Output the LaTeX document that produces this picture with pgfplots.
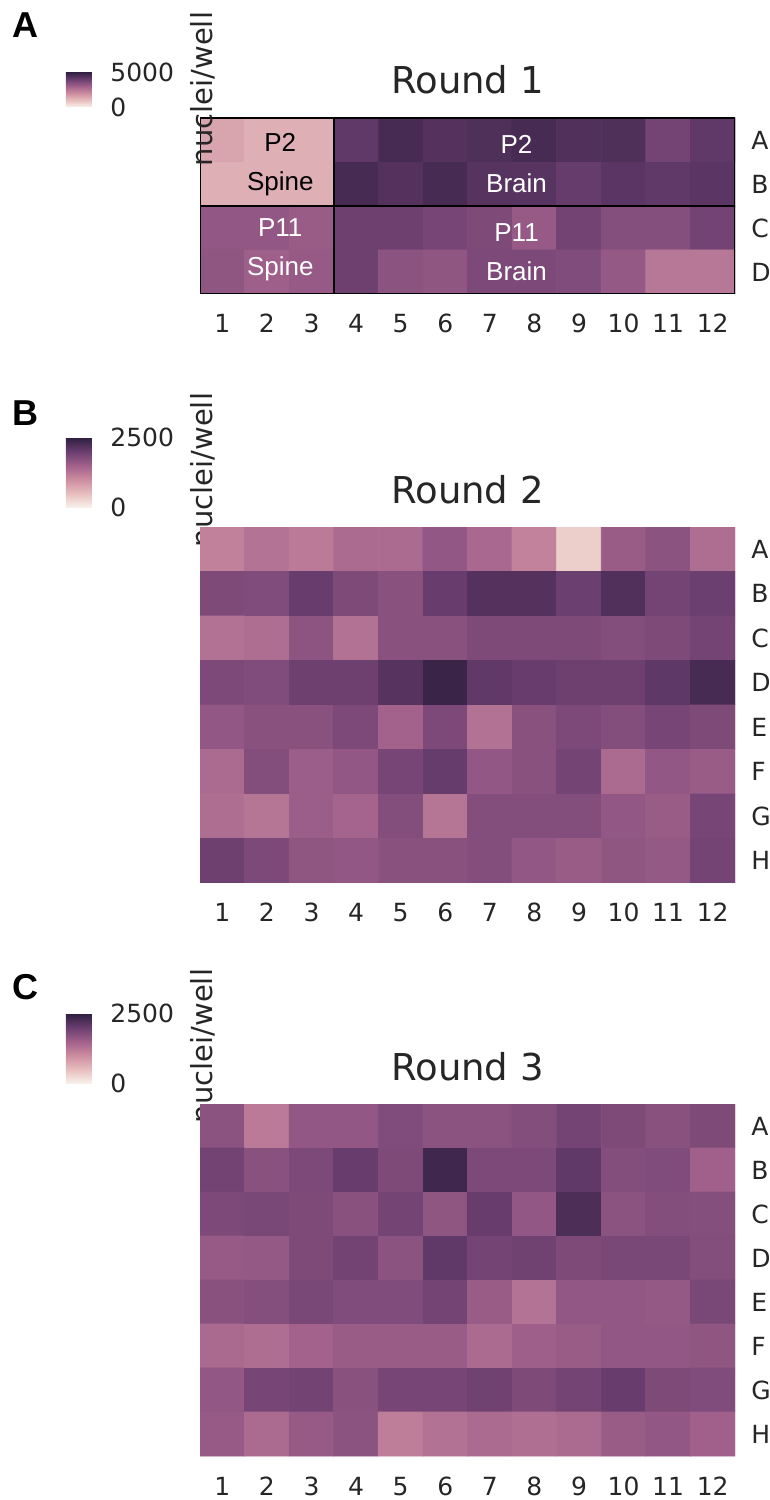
\documentclass[border=0pt]{standalone}
\usepackage{fontspec}
\setmainfont{DejaVu Sans}
\newfontfamily\arialf{Liberation Sans}
\usepackage{pgfplots}
\usepackage{pgfplotstable}
\pgfplotsset{compat=1.18}
\definecolor{tc}{RGB}{38,38,38}

\pgfplotstableread{
x y v
1 1 1500
2 1 1280
3 1 1280
4 1 4130
5 1 4560
6 1 4340
7 1 4430
8 1 4560
9 1 4390
10 1 4430
11 1 3780
12 1 4130
1 2 1280
2 2 1280
3 2 1280
4 2 4560
5 2 4340
6 2 4560
7 2 4300
8 2 4260
9 2 4040
10 2 4210
11 2 4130
12 2 4210
1 3 3250
2 3 3250
3 3 3120
4 3 3910
5 3 3910
6 3 3730
7 3 3600
8 3 3160
9 3 3820
10 3 3470
11 3 3470
12 3 3820
1 4 3290
2 4 3030
3 4 3160
4 4 3910
5 4 3380
6 4 3290
7 4 3640
8 4 3640
9 4 3560
10 4 3210
11 4 2460
12 4 2460
}\roundone

\pgfplotstableread{
x y v
1 1 1120
2 1 1275
3 1 1190
4 1 1365
5 1 1365
6 1 1625
7 1 1405
8 1 1100
9 1 335
10 1 1560
11 1 1690
12 1 1340
1 2 1800
2 2 1780
3 2 1995
4 2 1800
5 2 1715
6 2 1995
7 2 2170
8 2 2170
9 2 1975
10 2 2195
11 2 1890
12 2 1975
1 3 1295
2 3 1340
3 3 1670
4 3 1295
5 3 1715
6 3 1715
7 3 1800
8 3 1800
9 3 1800
10 3 1755
11 3 1800
12 3 1890
1 4 1820
2 4 1780
3 4 1955
4 4 1955
5 4 2150
6 4 2390
7 4 2065
8 4 1995
9 4 1955
10 4 1955
11 4 2085
12 4 2280
1 5 1625
2 5 1715
3 5 1715
4 5 1820
5 5 1470
6 5 1820
7 5 1295
8 5 1715
9 5 1820
10 5 1755
11 5 1865
12 5 1800
1 6 1365
2 6 1755
3 6 1540
4 6 1625
5 6 1865
6 6 2020
7 6 1625
8 6 1715
9 6 1890
10 6 1365
11 6 1625
12 6 1560
1 7 1340
2 7 1255
3 7 1540
4 7 1450
5 7 1755
6 7 1255
7 7 1755
8 7 1755
9 7 1755
10 7 1625
11 7 1560
12 7 1865
1 8 1955
2 8 1820
3 8 1645
4 8 1625
5 8 1715
6 8 1715
7 8 1755
8 8 1625
9 8 1560
10 8 1645
11 8 1605
12 8 1890
}\roundtwo

\pgfplotstableread{
x y v
1 1 1690
2 1 1190
3 1 1625
4 1 1625
5 1 1780
6 1 1690
7 1 1690
8 1 1755
9 1 1890
10 1 1800
11 1 1715
12 1 1800
1 2 1910
2 2 1715
3 2 1820
4 2 1995
5 2 1800
6 2 2345
7 2 1820
8 2 1820
9 2 2065
10 2 1755
11 2 1780
12 2 1495
1 3 1820
2 3 1845
3 3 1800
4 3 1715
5 3 1890
6 3 1645
7 3 1995
8 3 1625
9 3 2235
10 3 1690
11 3 1755
12 3 1735
1 4 1580
2 4 1605
3 4 1800
4 4 1910
5 4 1690
6 4 2065
7 4 1890
8 4 1930
9 4 1800
10 4 1845
11 4 1845
12 4 1755
1 5 1715
2 5 1735
3 5 1845
4 5 1780
5 5 1780
6 5 1890
7 5 1560
8 5 1275
9 5 1625
10 5 1625
11 5 1605
12 5 1845
1 6 1385
2 6 1340
3 6 1470
4 6 1560
5 6 1560
6 6 1560
7 6 1365
8 6 1515
9 6 1560
10 6 1625
11 6 1625
12 6 1645
1 7 1625
2 7 1865
3 7 1910
4 7 1715
5 7 1865
6 7 1865
7 7 1930
8 7 1800
9 7 1890
10 7 1995
11 7 1800
12 7 1780
1 8 1580
2 8 1365
3 8 1580
4 8 1690
5 8 1145
6 8 1295
7 8 1365
8 8 1320
9 8 1365
10 8 1560
11 8 1625
12 8 1495
}\roundthree

\pgfplotsset{
  hm/.style={
    scale only axis, width=267.5pt,
    xmin=0.5, xmax=12.5, ymin=0.5,
    y dir=reverse, enlargelimits=false,
    axis line style={draw=none}, tick style={draw=none},
    colormap={ch}{rgb255=(249,240,235) rgb255=(230,189,188) rgb255=(203,139,160) rgb255=(160,96,139) rgb255=(104,61,110) rgb255=(45,30,62)},
    xtick={1,2,3,4,5,6,7,8,9,10,11,12},
    xticklabels={1,2,3,4,5,6,7,8,9,10,11,12},
    yticklabel pos=right,
    xticklabel style={font=\fontsize{12.5}{15}\selectfont, text=tc, anchor=base, yshift=-19.5pt},
    yticklabel style={font=\fontsize{12.5}{15}\selectfont, text=tc, anchor=west, inner sep=0pt, xshift=8pt},
    title style={font=\fontsize{18.5}{21}\selectfont, text=tc, anchor=base, at={(0.5,1)}, yshift=6pt},
  },
  cb/.style 2 args={
    colorbar style={
      at={(-0.25047,#1)}, anchor=north west,
      scale only axis, width=13pt, height=#2,
      axis line style={draw=none}, tick style={draw=none},
      yticklabel style={font=\fontsize{12.5}{15}\selectfont, text=tc, anchor=west, inner sep=0pt, xshift=9pt},
    }
  },
}

\begin{document}
\begin{tikzpicture}
\path[use as bounding box] (0,0) rectangle (385pt,750pt);

% panel letters
\node[font=\arialf\bfseries\fontsize{18}{20}\selectfont] at (12.5pt,737.5pt) {A};
\node[font=\arialf\bfseries\fontsize{18}{20}\selectfont] at (12.5pt,543.5pt) {B};
\node[font=\arialf\bfseries\fontsize{18}{20}\selectfont] at (12.5pt,256.5pt) {C};

% labels drawn under heatmaps B and C
\node[rotate=90, font=\fontsize{14.5}{16}\selectfont, text=tc] at (101.5pt,515pt) {nuclei/well};
\node[rotate=90, font=\fontsize{14.5}{16}\selectfont, text=tc] at (101.5pt,227pt) {nuclei/well};

% ---------- Round 1 ----------
\begin{axis}[hm, at={(100pt,603pt)}, anchor=south west, height=88pt, ymax=4.5,
  ytick={1,2,3,4}, yticklabels={A,B,C,D},
  title={Round 1},
  point meta min=0, point meta max=5000,
  colorbar, cb={1.26136}{17.5pt},
  colorbar style={ytick={0,5000}, yticklabels={0,5000}},
]
\addplot[matrix plot*, mesh/cols=12, point meta=explicit] table[x=x, y=y, meta=v] {\roundone};
\draw[black, line width=1pt] (axis cs:0.5,0.5) rectangle (axis cs:3.5,2.5);
\draw[black, line width=1pt] (axis cs:3.5,0.5) rectangle (axis cs:12.5,2.5);
\draw[black, line width=1pt] (axis cs:0.5,2.5) rectangle (axis cs:3.5,4.5);
\draw[black, line width=1pt] (axis cs:3.5,2.5) rectangle (axis cs:12.5,4.5);
\node[font=\arialf\fontsize{13}{19.5}\selectfont, align=center, text=black] at (axis cs:2.3,1.55) {P2\\Spine};
\node[font=\arialf\fontsize{13}{19.5}\selectfont, align=center, text=white] at (axis cs:7.6,1.55) {P2\\Brain};
\node[font=\arialf\fontsize{13}{19.5}\selectfont, align=center, text=white] at (axis cs:2.3,3.5) {P11\\Spine};
\node[font=\arialf\fontsize{13}{19.5}\selectfont, align=center, text=white] at (axis cs:7.6,3.55) {P11\\Brain};
\end{axis}
\node[rotate=90, font=\fontsize{14.5}{16}\selectfont, text=tc] at (101.5pt,705.5pt) {nuclei/well};

% ---------- Round 2 ----------
\begin{axis}[hm, at={(100pt,308.5pt)}, anchor=south west, height=178pt, ymax=8.5,
  ytick={1,2,3,4,5,6,7,8}, yticklabels={A,B,C,D,E,F,G,H},
  title={Round 2},
  point meta min=0, point meta max=2500,
  colorbar, cb={1.25281}{35pt},
  colorbar style={ytick={0,2500}, yticklabels={0,2500}},
]
\addplot[matrix plot*, mesh/cols=12, point meta=explicit] table[x=x, y=y, meta=v] {\roundtwo};
\end{axis}

% ---------- Round 3 ----------
\begin{axis}[hm, at={(100pt,22pt)}, anchor=south west, height=176pt, ymax=8.5,
  ytick={1,2,3,4,5,6,7,8}, yticklabels={A,B,C,D,E,F,G,H},
  title={Round 3},
  point meta min=0, point meta max=2500,
  colorbar, cb={1.25852}{35pt},
  colorbar style={ytick={0,2500}, yticklabels={0,2500}},
]
\addplot[matrix plot*, mesh/cols=12, point meta=explicit] table[x=x, y=y, meta=v] {\roundthree};
\end{axis}
\end{tikzpicture}
\end{document}
